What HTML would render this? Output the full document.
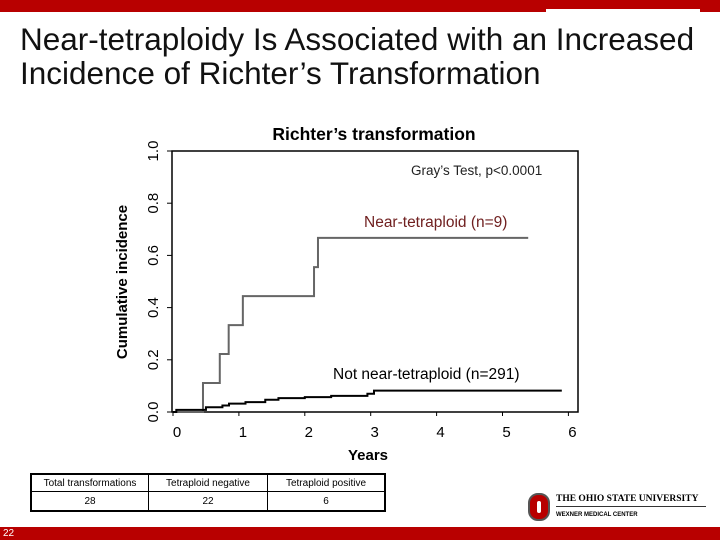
<!DOCTYPE html>
<html><head><meta charset="utf-8"><style>
body{margin:0;width:720px;height:540px;background:#fff;position:relative;overflow:hidden;font-family:"Liberation Sans",sans-serif}
.abs{position:absolute}
</style></head><body>
<div class="abs" style="left:0;top:0;width:720px;height:9px;background:#b80000"></div>
<div class="abs" style="left:0;top:9px;width:546px;height:3px;background:#b80000"></div>
<div class="abs" style="left:700px;top:9px;width:20px;height:3px;background:#b80000"></div>
<div class="abs" style="left:20px;top:22px;font-size:31.5px;line-height:34px;color:#111;white-space:nowrap">Near-tetraploidy Is Associated with an Increased<br>Incidence of Richter’s Transformation</div>
<svg class="abs" style="left:0;top:0" width="720" height="540">
<g id="g"></g>
</svg>
<table class="abs" style="left:30px;top:473px;border-collapse:collapse;font-size:10px;text-align:center">
<tr><td style="border:1px solid #000;border-width:2px 1px 1px 2px;width:114px;height:14px">Total transformations</td><td style="border:1px solid #000;border-top-width:2px;width:116px">Tetraploid negative</td><td style="border:1px solid #000;border-width:2px 2px 1px 1px;width:114px">Tetraploid positive</td></tr>
<tr><td style="border:1px solid #000;border-width:1px 1px 2px 2px;height:16px">28</td><td style="border:1px solid #000;border-bottom-width:2px">22</td><td style="border:1px solid #000;border-width:1px 2px 2px 1px">6</td></tr>
</table>
<div class="abs" style="left:528px;top:493px;width:22px;height:28px;background:#b80000;border-radius:10px;border:2px solid #555;box-sizing:border-box"><div style="position:absolute;left:7px;top:6px;width:4px;height:12px;background:#fff;border-radius:3px"></div></div>
<div class="abs" style="left:556px;top:494px;font-family:'Liberation Serif',serif;font-weight:bold;font-size:9.5px;white-space:nowrap;border-bottom:1px solid #333;width:150px;padding-bottom:2px">THE OHIO STATE UNIVERSITY</div>
<div class="abs" style="left:556px;top:512px;font-size:6px;font-weight:bold">WEXNER MEDICAL CENTER</div>
<div class="abs" style="left:0;top:527px;width:720px;height:13px;background:#b80000;color:#fff;font-size:10px;line-height:13px;padding-left:3px;box-sizing:border-box">22</div>
<script>
const xTicks=[0,1,2,3,4,5,6];
const yTicks=[0.0,0.2,0.4,0.6,0.8,1.0];
const tetraT=[0,0.455,0.71,0.845,1.06,2.14,2.2,5.39];
const tetraV=[0,0.111,0.222,0.333,0.444,0.555,0.667,0.667];
const notT=[0,0.05,0.5,0.75,0.85,1.1,1.4,1.6,2.0,2.4,2.95,3.05,5.9];
const notV=[0,0.008,0.018,0.025,0.032,0.038,0.047,0.053,0.057,0.062,0.07,0.082,0.082];
const X=v=>173+v*65.9, Y=v=>412-v*261;
const g=document.getElementById('g'),NS='http://www.w3.org/2000/svg';
function mk(t,a,txt){const e=document.createElementNS(NS,t);for(const k in a)e.setAttribute(k,a[k]);if(txt!=null)e.textContent=txt;g.appendChild(e);return e;}
let e=mk('rect',{x:172,y:151,width:406,height:261,fill:'none',stroke:'#000','stroke-width':1.5});

xTicks.forEach(v=>{mk('line',{x1:X(v),y1:412,x2:X(v),y2:416,stroke:'#000'});
let t=mk('text',{x:X(v)+4,y:437,'font-size':15,'text-anchor':'middle'},v);
});
yTicks.forEach(v=>{mk('line',{x1:167,y1:Y(v),x2:172,y2:Y(v),stroke:'#000'});
let t=mk('text',{x:153,y:Y(v),'font-size':15,'text-anchor':'middle',transform:`rotate(-90 153 ${Y(v)})`,dy:5},v.toFixed(1));
});
function step(T,V){let d=`M${X(T[0])},${Y(V[0])}`;for(let i=1;i<T.length;i++)d+=` H${X(T[i])} V${Y(V[i])}`;return d;}
e=mk('path',{d:step(tetraT,tetraV),fill:'none',stroke:'#666','stroke-width':2});

e=mk('path',{d:step(notT,notV),fill:'none',stroke:'#000','stroke-width':2});

const labs=[['chart-title',374,140,'Richter’s transformation',17.5,'bold','#000','middle'],['grays-test',411,175,'Gray’s Test, p<0.0001',13.5,'normal','#222','start'],['near-tetraploid-label',364,227,'Near-tetraploid (n=9)',15.5,'normal','#702020','start'],['not-near-tetraploid-label',333,379,'Not near-tetraploid (n=291)',15.5,'normal','#000','start'],['x-axis-title',368,460,'Years',15,'bold','#000','middle']];
labs.forEach(l=>{let t=mk('text',{x:l[1],y:l[2],'font-size':l[4],'font-weight':l[5],fill:l[6],'text-anchor':l[7]},l[3]);
});
e=mk('text',{x:127,y:282,'font-size':15,'font-weight':'bold','text-anchor':'middle',transform:'rotate(-90 127 282)'},'Cumulative incidence');

</script>
</body></html>
